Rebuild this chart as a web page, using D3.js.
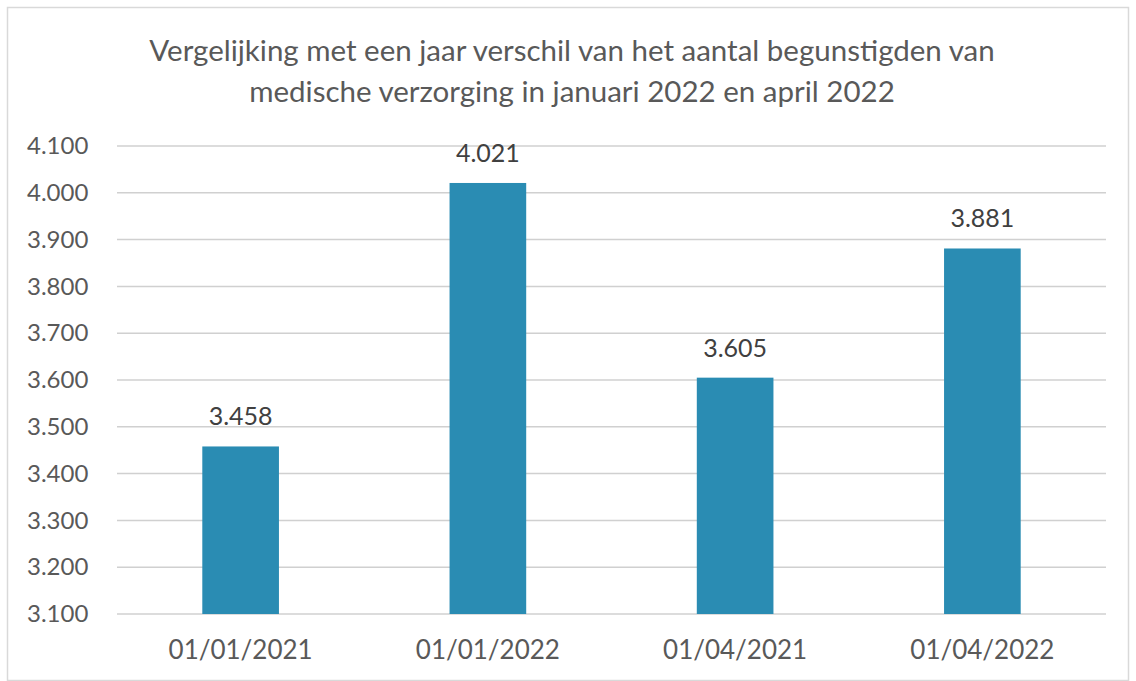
<!DOCTYPE html>
<html>
<head>
<meta charset="utf-8">
<script src="https://cdn.jsdelivr.net/npm/d3@7"></script>
<style>
  body { margin: 0; background: #fff; }
  text { font-family: Lato, "Open Sans", sans-serif; }
</style>
</head>
<body>
<svg id="chart"></svg>
<script>
// data
var categories = ["01/01/2021", "01/01/2022", "01/04/2021", "01/04/2022"];
var values = [3458, 4021, 3605, 3881];
var yTicks = [3100, 3200, 3300, 3400, 3500, 3600, 3700, 3800, 3900, 4000, 4100];
var titleLines = [
  "Vergelijking met een  jaar verschil van het aantal begunstigden van",
  "medische verzorging in januari 2022 en april 2022"
];

var w = 1136, h = 681;
var margin = {top: 146, right: 30, bottom: 67, left: 117};
var width = w - margin.left - margin.right;
var height = h - margin.top - margin.bottom;

var fmt = function(v) { return d3.format(",.0f")(v).replace(/,/g, "."); };

var svg = d3.select("#chart").attr("width", w).attr("height", h);

// outer frame
svg.append("rect")
  .attr("x", 7.5).attr("y", 7.5)
  .attr("width", w - 15).attr("height", h - 8)
  .attr("fill", "none").attr("stroke", "#d9d9d9").attr("stroke-width", 1.5);

svg.selectAll(".title")
  .data(titleLines)
  .enter().append("text")
  .attr("class", "title")
  .attr("x", 572)
  .attr("y", function(d, i) { return 61 + i * 41; })
  .attr("text-anchor", "middle")
  .attr("fill", "#595959")
  .style("font-size", "29.5px")
  .text(function(d) { return d; });

var x = d3.scaleBand()
  .domain(categories)
  .range([0, width])
  .paddingInner(0.69)
  .paddingOuter(0.345);

var y = d3.scaleLinear()
  .domain([3100, 4100])
  .range([height, 0]);

var chart = svg.append("g")
  .attr("transform", "translate(" + margin.left + "," + margin.top + ")");

// gridlines
chart.selectAll(".grid")
  .data(yTicks)
  .enter().append("line")
  .attr("x1", 0).attr("x2", width)
  .attr("y1", function(d) { return y(d); })
  .attr("y2", function(d) { return y(d); })
  .attr("stroke", "#d0d0d0")
  .attr("stroke-width", 1.5);

var yAxis = chart.append("g")
  .call(d3.axisLeft(y).tickValues(yTicks).tickFormat(fmt).tickSize(0));
yAxis.select(".domain").remove();
yAxis.selectAll("text")
  .attr("x", -90)
  .attr("text-anchor", "start")
  .attr("fill", "#595959")
  .style("font-size", "24px")
  .style("font-family", "Lato, sans-serif");

var xAxis = chart.append("g")
  .attr("transform", "translate(0," + height + ")")
  .call(d3.axisBottom(x).tickSize(0).tickPadding(27));
xAxis.select(".domain").remove();
xAxis.selectAll("text")
  .attr("fill", "#595959")
  .style("font-size", "26px")
  .style("font-family", "Lato, sans-serif");

chart.selectAll(".bar")
  .data(values)
  .enter().append("rect")
  .attr("class", "bar")
  .attr("x", function(d, i) { return x(categories[i]); })
  .attr("y", function(d) { return y(d); })
  .attr("width", x.bandwidth())
  .attr("height", function(d) { return height - y(d); })
  .attr("fill", "#2a8cb3");

chart.selectAll(".label")
  .data(values)
  .enter().append("text")
  .attr("class", "label")
  .attr("x", function(d, i) { return x(categories[i]) + x.bandwidth() / 2; })
  .attr("y", function(d) { return y(d) - 21; })
  .attr("text-anchor", "middle")
  .attr("fill", "#404040")
  .style("font-size", "25px")
  .text(fmt);
</script>
</body>
</html>
